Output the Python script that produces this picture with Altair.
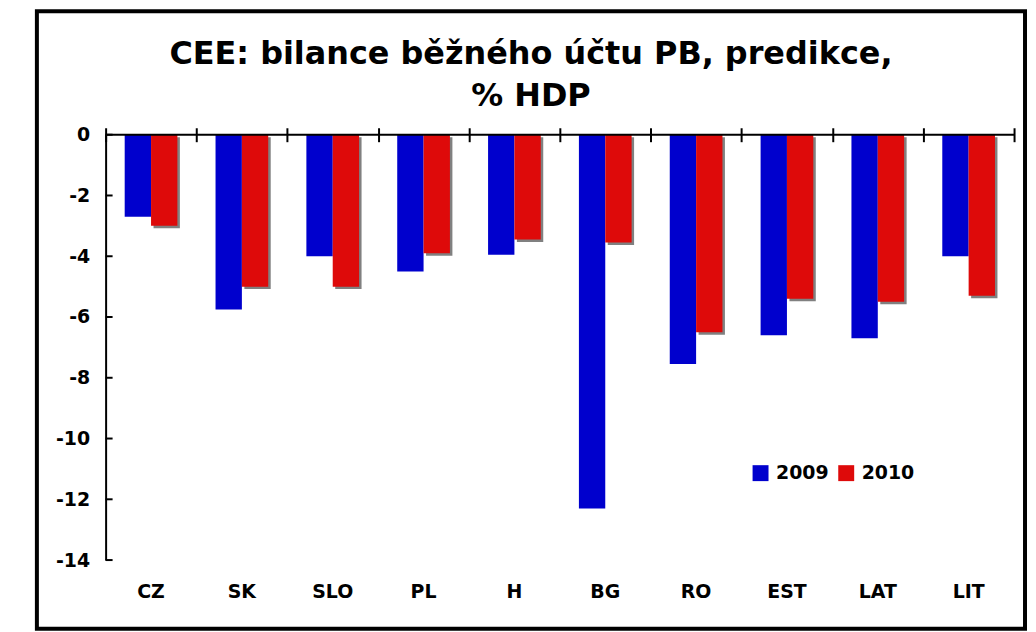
import altair as alt
import pandas as pd

countries = ["CZ", "SK", "SLO", "PL", "H", "BG", "RO", "EST", "LAT", "LIT"]
years = ["2009", "2010"]
v2009 = [-2.7, -5.75, -4.0, -4.5, -3.95, -12.3, -7.55, -6.6, -6.7, -4.0]
v2010 = [-3.0, -5.0, -5.0, -3.9, -3.45, -3.55, -6.5, -5.4, -5.5, -5.3]
y_ticks = [0, -2, -4, -6, -8, -10, -12, -14]
title_lines = ["CEE: bilance běžného účtu PB, predikce,", "% HDP"]

rows = []
for c, a, b in zip(countries, v2009, v2010):
    rows.append({"country": c, "year": years[0], "value": a})
    rows.append({"country": c, "year": years[1], "value": b})
df = pd.DataFrame(rows)

W, H = 912, 427
PI = 0.42
step = W / len(countries)
bw = step * (1 - PI)
SH = 2.5

FONT = "DejaVu Sans"
BLUE = "#0000CD"
RED = "#DE0A0A"
GRAY = "#808080"

xscale = alt.Scale(paddingInner=PI, paddingOuter=PI / 2)
yscale = alt.Scale(domain=[-14, 0], nice=False, zero=False)

y_axis = alt.Axis(title=None, values=y_ticks, grid=False, ticks=False, tickSize=0,
                  domainColor="black", domainWidth=2, labelFont=FONT, labelFontSize=19,
                  labelFontWeight="bold", labelColor="black", labelPadding=16,
                  labelExpr="'' + datum.value")

x_bottom = alt.X(
    "country:N", sort=countries, scale=xscale,
    axis=alt.Axis(orient="bottom", title=None, domain=False, ticks=False, tickSize=0,
                  labelAngle=0, labelFont=FONT, labelFontSize=19, labelFontWeight="bold",
                  labelColor="black", labelPadding=23),
)

shadow = alt.Chart(df).transform_filter(alt.datum.year == "2010").mark_bar(
    color=GRAY, yOffset=SH, y2Offset=SH
).encode(
    x=alt.X("country:N", sort=countries, scale=xscale, axis=None),
    y=alt.Y("value:Q", scale=yscale, axis=y_axis),
    xOffset=alt.XOffset("year:N", sort=years, scale=alt.Scale(domain=years, range=[SH, bw + SH], paddingInner=0, paddingOuter=0)),
)

bars = alt.Chart(df).mark_bar().encode(
    x=x_bottom,
    y=alt.Y("value:Q", scale=yscale, axis=y_axis),
    xOffset=alt.XOffset("year:N", sort=years, scale=alt.Scale(domain=years, range=[0, bw], paddingInner=0, paddingOuter=0)),
    color=alt.Color(
        "year:N", sort=years,
        scale=alt.Scale(domain=years, range=[BLUE, RED]),
        legend=alt.Legend(title=None, orient="none", legendX=648, legendY=330, direction="horizontal",
                          symbolType="square", symbolSize=256, symbolStrokeWidth=0,
                          labelFont=FONT, labelFontSize=19, labelFontWeight="bold", labelColor="black",
                          labelOffset=6, columnPadding=8, padding=0),
    ),
)

zero_line = alt.Chart(pd.DataFrame({"z": [0]})).mark_rule(color="black", strokeWidth=2).encode(
    y=alt.datum(0), x=alt.value(0), x2=alt.value(W)
)

yticks = alt.Chart(pd.DataFrame({"value": y_ticks})).mark_rule(color="black", strokeWidth=2).encode(
    y=alt.Y("value:Q", scale=yscale, axis=y_axis), x=alt.value(0), x2=alt.value(7)
)

top_ticks = alt.Chart(pd.DataFrame({"country": countries})).mark_point(opacity=0).encode(
    x=alt.X("country:N", sort=countries, scale=alt.Scale(paddingInner=0, paddingOuter=0),
            axis=alt.Axis(orient="top", title=None, labels=False, domain=False, ticks=True,
                          tickBand="extent", tickSize=14, offset=-7, tickColor="black", tickWidth=2)),
    y=alt.datum(0),
)

title = alt.Chart(pd.DataFrame({"t": [0]})).mark_text(
    font=FONT, fontSize=32, fontWeight="bold", color="black", align="center",
    baseline="alphabetic", lineHeight=42
).encode(text=alt.value(title_lines), x=alt.value(427), y=alt.value(-71))

border = alt.Chart(pd.DataFrame({"b": [0]})).mark_rect(
    filled=False, fillOpacity=0, stroke="black", strokeWidth=4
).encode(x=alt.value(-69), x2=alt.value(923), y=alt.value(-124), y2=alt.value(496))

chart = alt.layer(shadow, bars, zero_line, yticks, top_ticks, title, border).resolve_scale(
    x="independent", xOffset="independent"
).resolve_axis(x="independent").properties(
    width=W, height=H,
    autosize=alt.AutoSizeParams(type="none"),
    padding={"left": 98, "top": 126, "right": 14, "bottom": 71},
    background="white",
).configure_view(stroke=None)

chart.save("out.html", embed_options={"renderer": "svg", "actions": False})
